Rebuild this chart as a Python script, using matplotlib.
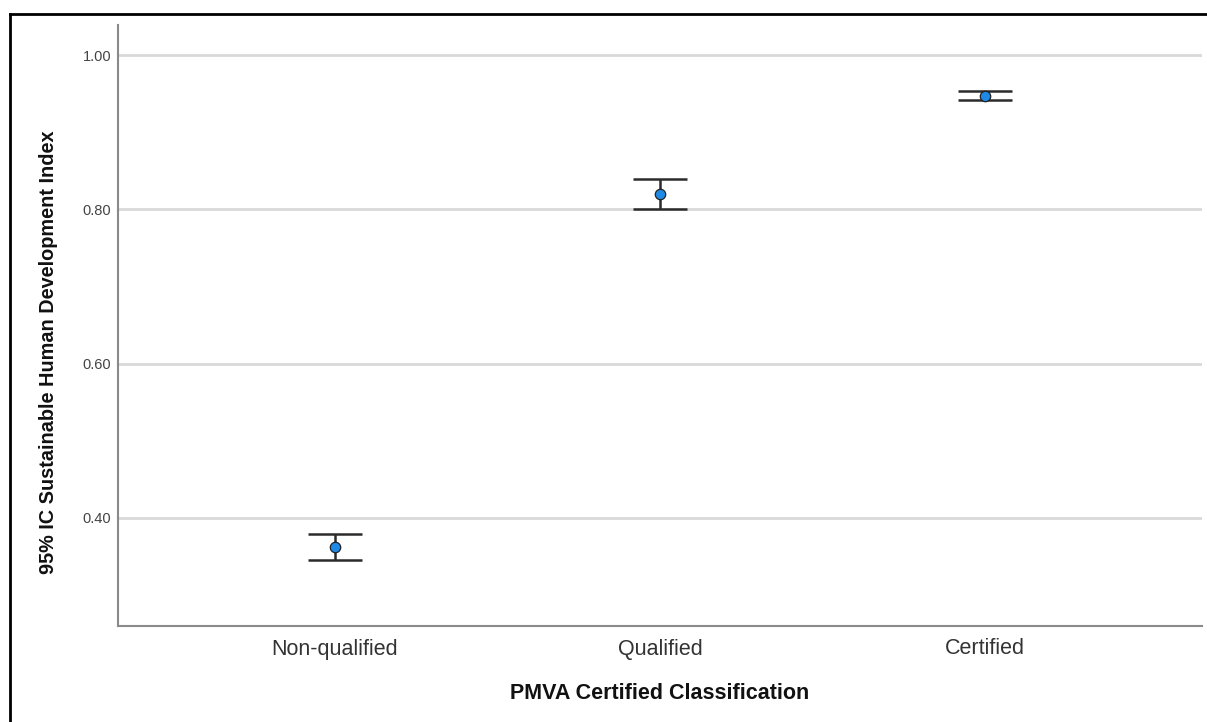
import matplotlib
matplotlib.use("Agg")
import matplotlib.pyplot as plt
from matplotlib.lines import Line2D
import numpy as np

plt.rcParams["font.family"] = ["Liberation Sans", "DejaVu Sans"]

# group means and 95% CI bounds
categories = ["Non-qualified", "Qualified", "Certified"]
means = [0.362, 0.820, 0.947]
ci_lower = [0.346, 0.801, 0.942]
ci_upper = [0.379, 0.839, 0.953]
y_ticks = [0.40, 0.60, 0.80, 1.00]

fig = plt.figure(figsize=(12.07, 7.22), dpi=100)
ax = fig.add_axes([118 / 1207, 1 - 626 / 722, (1202 - 118) / 1207, (626 - 25) / 722])

x = np.arange(len(categories))
means_arr = np.array(means)
yerr = [means_arr - np.array(ci_lower), np.array(ci_upper) - means_arr]

for yt in y_ticks:
    ax.axhline(yt, color="#d9d9d9", lw=2, zorder=0)

ax.errorbar(x, means, yerr=yerr, fmt="none", ecolor="#2b2b2b",
            elinewidth=1.8, capsize=19.4, capthick=1.8, zorder=2)
ax.plot(x, means, "o", color="#1e8ae6", markeredgecolor="#222222",
        markeredgewidth=0.9, markersize=7.5, zorder=3)

ax.set_xlim(-0.667, 2.667)
ax.set_ylim(0.260, 1.039)
ax.set_yticks(y_ticks)
ax.set_yticklabels([f"{v:.2f}" for v in y_ticks], fontsize=10.5, color="#444444")
ax.set_xticks(x)
ax.set_xticklabels(categories, fontsize=15.5, color="#333333")
ax.tick_params(axis="both", length=0)
ax.tick_params(axis="y", pad=5)
ax.tick_params(axis="x", pad=9)

for side in ["top", "right"]:
    ax.spines[side].set_visible(False)
for side in ["left", "bottom"]:
    ax.spines[side].set_color("#8a8a8a")
    ax.spines[side].set_linewidth(1.5)

ax.set_xlabel("PMVA Certified Classification", fontsize=15.5, fontweight="bold",
              color="#111111", labelpad=17)
fig.text(49 / 1207, 1 - 352 / 722, "95% IC Sustainable Human Development Index",
         rotation=90, ha="center", va="center", fontsize=14.3,
         fontweight="bold", color="#111111")

# outer frame (left and top edges)
fx = 10 / 1207
fy = 1 - 14 / 722
fig.add_artist(Line2D([fx, fx], [0, fy], transform=fig.transFigure, color="black", lw=2))
fig.add_artist(Line2D([fx, 1], [fy, fy], transform=fig.transFigure, color="black", lw=2))

fig.savefig("out.png", dpi=100)
